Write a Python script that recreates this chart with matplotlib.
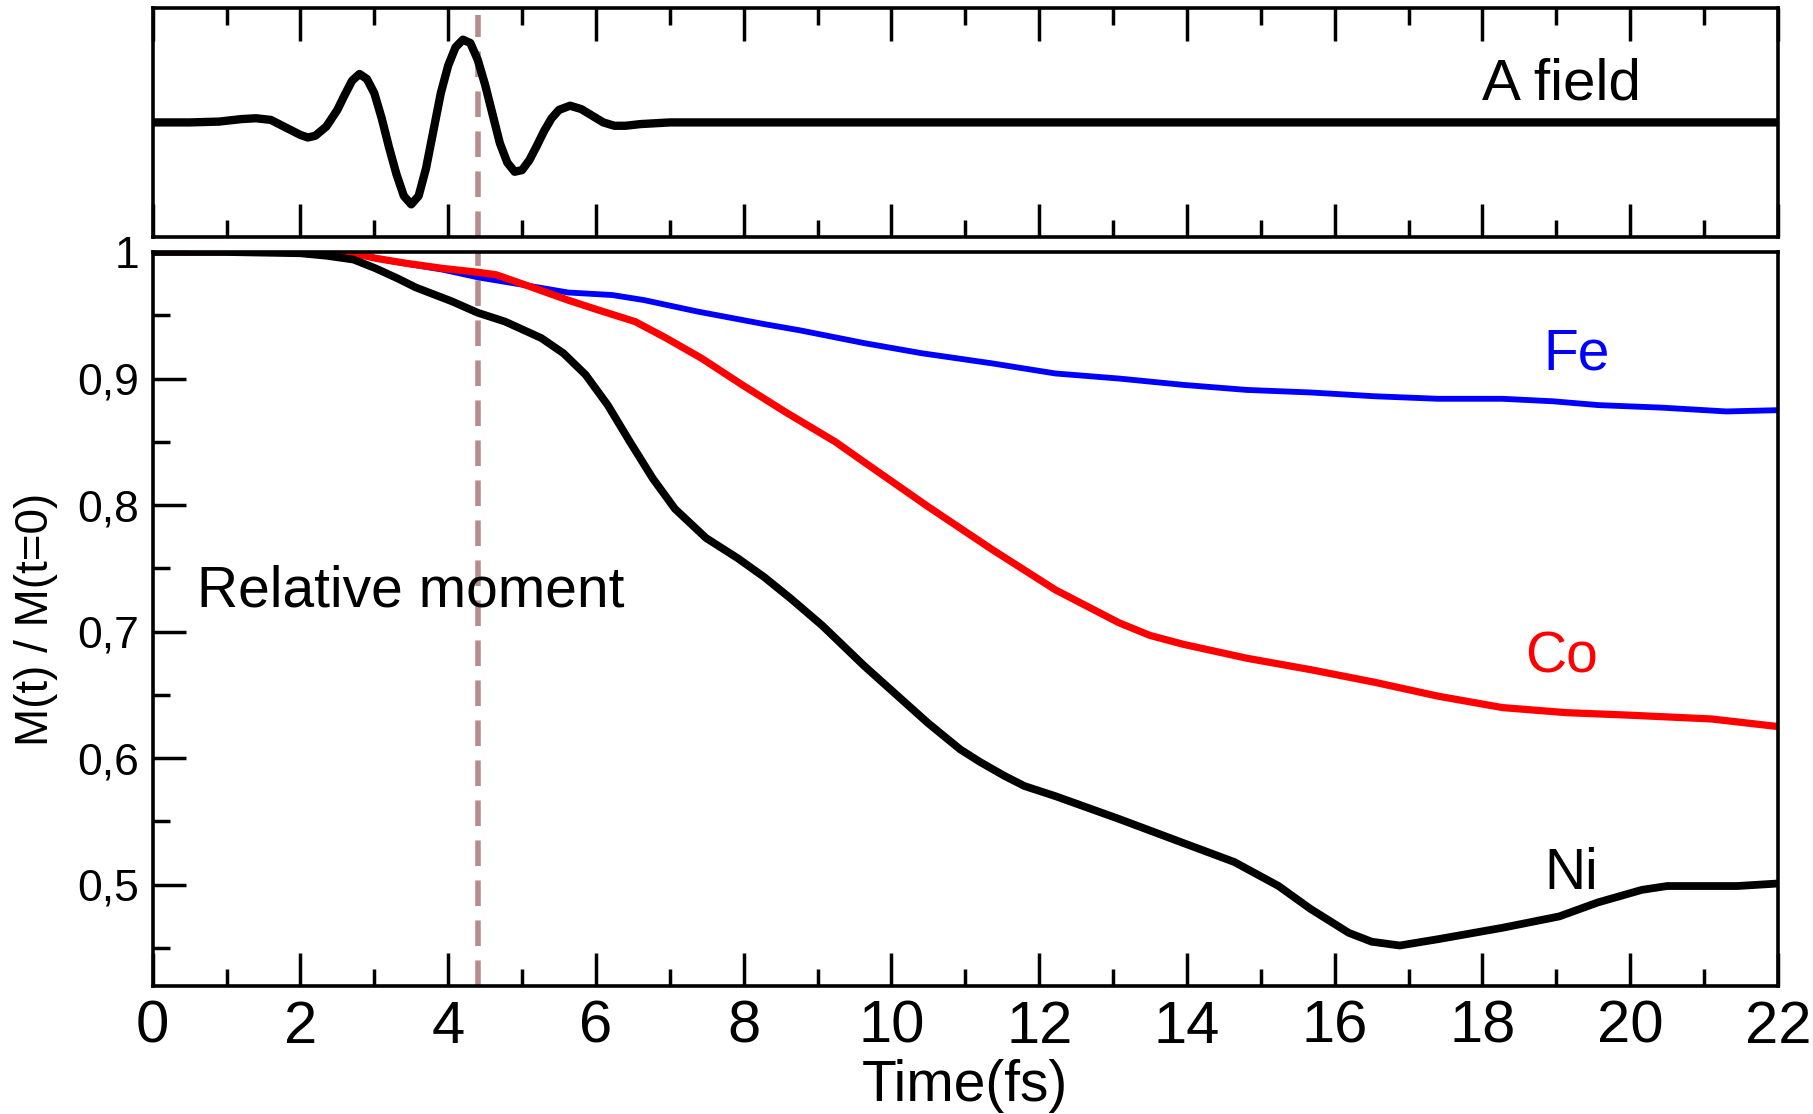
import numpy as np
import matplotlib
matplotlib.use("Agg")
import matplotlib.pyplot as plt
from matplotlib.ticker import MultipleLocator, FixedLocator, FixedFormatter

plt.rcParams["font.family"] = ["Liberation Sans", "DejaVu Sans"]

# vector potential of the pump pulse (arb. units)
t_field = [0.0, 0.5, 0.9, 1.2, 1.4, 1.6, 1.8, 2.0, 2.1, 2.2, 2.35, 2.5, 2.6, 2.7,
           2.8, 2.9, 3.0, 3.1, 3.2, 3.3, 3.4, 3.5, 3.6, 3.7, 3.8, 3.9, 4.0, 4.1,
           4.2, 4.3, 4.4, 4.5, 4.6, 4.7, 4.8, 4.9, 5.0, 5.1, 5.2, 5.3, 5.4, 5.5,
           5.65, 5.8, 5.95, 6.1, 6.25, 6.4, 6.6, 7.0, 22.0]
a_field = [0.0, 0.0, 0.01, 0.04, 0.05, 0.03, -0.06, -0.15, -0.18, -0.16, -0.05,
           0.15, 0.33, 0.5, 0.58, 0.52, 0.35, 0.05, -0.3, -0.62, -0.88, -0.98,
           -0.88, -0.55, -0.1, 0.35, 0.68, 0.9, 0.99, 0.95, 0.75, 0.45, 0.1,
           -0.25, -0.48, -0.59, -0.57, -0.45, -0.28, -0.1, 0.05, 0.15, 0.2, 0.16,
           0.08, 0.0, -0.04, -0.04, -0.02, 0.0, 0.0]

# relative moments M(t)/M(0)
t_fe = [0.0, 2.5, 2.72, 3.2, 3.93, 4.4, 5.02, 5.62, 6.22, 6.65, 7.37, 8.28, 8.77,
        9.63, 10.41, 11.36, 12.22, 13.08, 13.95, 14.81, 15.67, 16.54, 17.4,
        18.27, 18.96, 19.57, 20.43, 21.3, 22.0]
m_fe = [1.0, 1.0, 0.999, 0.993, 0.986, 0.98, 0.974, 0.968, 0.966, 0.962, 0.953,
        0.943, 0.938, 0.928, 0.92, 0.912, 0.904, 0.9, 0.895, 0.891, 0.889, 0.886,
        0.884, 0.884, 0.882, 0.879, 0.877, 0.874, 0.875]

t_co = [0.0, 2.4, 2.72, 3.02, 3.44, 3.93, 4.4, 4.65, 5.14, 5.62, 6.04, 6.53, 6.95,
        7.43, 7.98, 8.58, 9.24, 9.63, 10.49, 11.36, 12.22, 13.08, 13.5, 13.95,
        14.81, 15.67, 16.54, 17.4, 18.27, 19.13, 19.99, 21.1, 22.0]
m_co = [1.0, 1.0, 0.999, 0.995, 0.991, 0.987, 0.984, 0.982, 0.972, 0.962, 0.954,
        0.945, 0.932, 0.916, 0.895, 0.873, 0.85, 0.834, 0.799, 0.765, 0.733,
        0.707, 0.697, 0.69, 0.679, 0.67, 0.66, 0.649, 0.64, 0.636, 0.634, 0.631,
        0.625]

t_ni = [0.0, 1.0, 2.0, 2.36, 2.72, 3.02, 3.32, 3.56, 4.05, 4.4, 4.77, 5.26, 5.56,
        5.86, 6.16, 6.46, 6.77, 7.07, 7.49, 7.92, 8.28, 8.64, 9.06, 9.63, 10.49,
        10.93, 11.2, 11.53, 11.8, 12.22, 13.08, 13.95, 14.64, 15.24, 15.67,
        16.19, 16.5, 16.88, 17.4, 18.27, 19.04, 19.56, 20.16, 20.5, 20.85,
        21.45, 22.0]
m_ni = [1.0, 1.0, 0.999, 0.997, 0.994, 0.987, 0.979, 0.972, 0.961, 0.952, 0.945,
        0.932, 0.92, 0.903, 0.879, 0.85, 0.821, 0.797, 0.774, 0.758, 0.743,
        0.726, 0.705, 0.673, 0.628, 0.607, 0.597, 0.586, 0.578, 0.57, 0.552,
        0.533, 0.518, 0.499, 0.481, 0.462, 0.455, 0.452, 0.457, 0.466, 0.475,
        0.486, 0.496, 0.499, 0.499, 0.499, 0.501]

pump_time = 4.4

y_ticks = [0.5, 0.6, 0.7, 0.8, 0.9, 1.0]
y_tick_labels = ["0,5", "0,6", "0,7", "0,8", "0,9", "1"]

fig = plt.figure(figsize=(18.13, 11.14), dpi=100)
ax_top = fig.add_axes([0.0842, 0.7873, 0.8965, 0.2056])
ax = fig.add_axes([0.0842, 0.1149, 0.8965, 0.6589])

spine_lw = 2.6
dash_color = "#b88c8c"

# A. field panel
ax_top.plot(t_field, a_field, color="black", lw=6.0, solid_joinstyle="round",
            solid_capstyle="round")
ax_top.axvline(pump_time, ymin=0.0, ymax=0.97, color=dash_color, lw=4.0,
               dashes=(4.6, 2.6), zorder=1.5)
ax_top.set_xlim(0, 22)
ax_top.set_ylim(-1.37, 1.37)
ax_top.xaxis.set_major_locator(MultipleLocator(2))
ax_top.xaxis.set_minor_locator(MultipleLocator(1))
ax_top.tick_params(axis="x", which="both", direction="in", top=True, bottom=True,
                   labelbottom=False, width=2.5)
ax_top.tick_params(axis="x", which="major", length=23.5)
ax_top.tick_params(axis="x", which="minor", length=12.5)
ax_top.set_yticks([])
ax_top.text(19.07, 0.277, "A field", fontsize=42, ha="center", va="baseline")

# B. moments panel
ax.plot(t_fe, m_fe, color="#0000ff", lw=4.2, solid_joinstyle="round")
ax.plot(t_co, m_co, color="#ff0000", lw=5.2, solid_joinstyle="round")
ax.plot(t_ni, m_ni, color="black", lw=5.6, solid_joinstyle="round")
ax.axvline(pump_time, ymin=0.0, ymax=1.0, color=dash_color, lw=4.0,
           dashes=(4.6, 2.6), zorder=1.5)

ax.set_xlim(0, 22)
ax.set_ylim(0.42, 1.0)
ax.xaxis.set_major_locator(MultipleLocator(2))
ax.xaxis.set_minor_locator(MultipleLocator(1))
ax.yaxis.set_major_locator(FixedLocator(y_ticks))
ax.yaxis.set_major_formatter(FixedFormatter(y_tick_labels))
ax.yaxis.set_minor_locator(MultipleLocator(0.05))
ax.tick_params(which="both", direction="in", top=False, right=False, width=2.5)
ax.tick_params(which="major", length=23.5)
ax.tick_params(which="minor", length=12.5)
ax.tick_params(axis="x", which="major", labelsize=43, pad=10)
ax.tick_params(axis="y", which="major", labelsize=32, pad=10)

ax.set_xlabel("Time(fs)", fontsize=41)
ax.xaxis.set_label_coords(0.5, -0.1)
ax.set_ylabel("M(t) / M(t=0)", fontsize=33)
ax.yaxis.set_label_coords(-0.058, 0.5)

ax.text(0.6, 0.72, "Relative moment", fontsize=41, ha="left", va="baseline")
ax.text(19.27, 0.907, "Fe", fontsize=41, color="#0000ff", ha="center", va="baseline")
ax.text(19.07, 0.668, "Co", fontsize=41, color="#ff0000", ha="center", va="baseline")
ax.text(19.2, 0.497, "Ni", fontsize=41, color="black", ha="center", va="baseline")

for a in (ax, ax_top):
    for s in a.spines.values():
        s.set_linewidth(spine_lw)

fig.savefig("out.png", dpi=100)
